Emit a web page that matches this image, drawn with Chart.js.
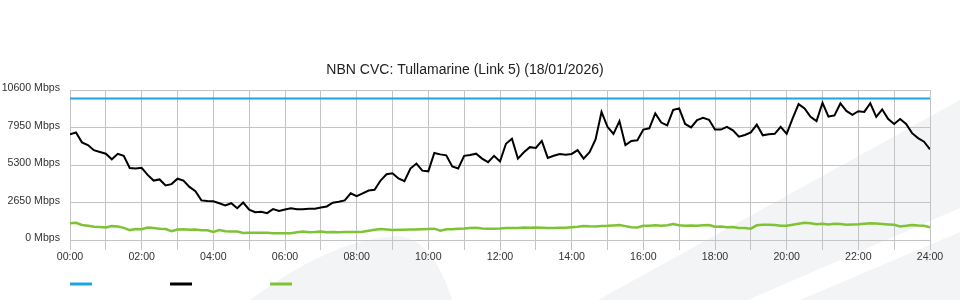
<!DOCTYPE html>
<html>
<head>
<meta charset="utf-8">
<title>NBN CVC: Tullamarine (Link 5)</title>
<script src="https://cdn.jsdelivr.net/npm/chart.js@4.4.1/dist/chart.umd.min.js"></script>
<style>
  html, body { margin: 0; padding: 0; background: #fff; }
</style>
</head>
<body>
<canvas id="cvcChart" width="960" height="300"></canvas>
<script>
// muestras cada 10 minutos, 00:00 -> 24:00
const sampleStepMinutes = 10;

const downloadMbps = [
    7470, 7600, 6900, 6710, 6350, 6220,
    6100, 5700, 6090, 5950, 5090, 5050,
    5100, 4600, 4200, 4280, 3860, 3950,
    4330, 4200, 3750, 3450, 2800, 2750,
    2740, 2600, 2450, 2600, 2250, 2650,
    2150, 1960, 2000, 1900, 2180, 2050,
    2150, 2250, 2180, 2180, 2200, 2210,
    2300, 2370, 2640, 2700, 2800, 3300,
    3100, 3300, 3500, 3550, 4200, 4650,
    4720, 4350, 4150, 5050, 5400, 4900,
    4850, 6150, 6050, 5980, 5200, 5050,
    5950, 6010, 6100, 5750, 5500, 5950,
    5550, 6800, 7150, 5750, 6200, 6560,
    6500, 7000, 5800, 5950, 6080, 6030,
    6080, 6350, 5750, 6200, 7100, 9050,
    8000, 7500, 8400, 6700, 7000, 7050,
    7800, 7890, 8950, 8300, 8100, 9190,
    9300, 8200, 7960, 8480, 8640, 8500,
    7800, 7800, 8000, 7750, 7300, 7420,
    7600, 8150, 7400, 7480, 7500, 8000,
    7500, 8600, 9600, 9300, 8700, 8400,
    9700, 8720, 8800, 9650, 9120, 8850,
    9100, 9050, 9660, 8700, 9230, 8550,
    8200, 8550, 8200, 7550, 7200, 6950,
    6410
];

const uploadMbps = [
    1180, 1220, 1060, 1000, 940, 920,
    880, 980, 950, 860, 700, 780,
    760, 880, 850, 800, 780, 620,
    740, 760, 720, 740, 690, 690,
    570, 700, 620, 600, 600, 500,
    520, 520, 520, 520, 480, 470,
    470, 470, 540, 600, 540, 560,
    600, 540, 560, 550, 560, 570,
    560, 580, 650, 720, 780, 740,
    700, 720, 720, 750, 740, 760,
    780, 800, 660, 760, 760, 800,
    810, 850, 860, 820, 800, 800,
    820, 850, 850, 850, 880, 870,
    880, 870, 850, 840, 860, 860,
    900, 940, 990, 970, 960, 990,
    1000, 1030, 1060, 980, 900, 880,
    1000, 1000, 1050, 1000, 1050, 1130,
    1050, 1000, 1020, 1000, 1050, 1060,
    940, 950, 900, 920, 850, 840,
    800, 1050, 1070, 1070, 1060, 1000,
    1000, 1080, 1150, 1220, 1180, 1120,
    1150, 1100, 1150, 1130, 1080, 1100,
    1120, 1150, 1180, 1160, 1130, 1100,
    1070, 950, 1000, 1060, 1020, 1000,
    900
];

const capacityMinutes = [0, 1440];
const capacityMbps = [10000, 10000];

const hourLabels = ['00:00', '02:00', '04:00', '06:00', '08:00', '10:00', '12:00',
                    '14:00', '16:00', '18:00', '20:00', '22:00', '24:00'];
const yTickValues = [0, 2650, 5300, 7950, 10600];

const FONT = "'Liberation Sans', Arial, sans-serif";
const GRID = '#c4c4c4';

/**
 * Fondo con las franjas grises diagonales
 */
const fondoFranjas = {
    id: 'fondoFranjas',
    beforeDraw(chart) {
        const ctx = chart.ctx;
        ctx.save();
        ctx.fillStyle = '#ffffff';
        ctx.fillRect(0, 0, chart.width, chart.height);
        ctx.fillStyle = '#f3f4f6';

        ctx.beginPath();
        ctx.moveTo(250, 300);
        ctx.quadraticCurveTo(330, 240, 395, 236);
        ctx.quadraticCurveTo(432, 236, 452, 300);
        ctx.closePath();
        ctx.fill();

        ctx.beginPath();
        ctx.moveTo(598, 300);
        ctx.lineTo(960, 100);
        ctx.lineTo(960, 208);
        ctx.lineTo(748, 300);
        ctx.closePath();
        ctx.fill();

        ctx.beginPath();
        ctx.moveTo(800, 300);
        ctx.lineTo(960, 232);
        ctx.lineTo(960, 300);
        ctx.closePath();
        ctx.fill();
        ctx.restore();
    }
};

// la leyenda arranca alineada con el eje y
const leyendaOffset = {
    id: 'leyendaOffset',
    afterLayout(chart) {
        if (chart.legend) chart.legend.left += 58;
    }
};

const toPoints = (values) => values.map((v, i) => ({ x: i * sampleStepMinutes, y: v }));

new Chart(document.getElementById('cvcChart'), {
    type: 'line',
    data: {
        datasets: [
            {
                label: 'Capacity',
                data: capacityMinutes.map((m, i) => ({ x: m, y: capacityMbps[i] })),
                borderColor: '#1ea4e2',
                backgroundColor: '#1ea4e2',
                borderWidth: 2
            },
            {
                label: 'Download',
                data: toPoints(downloadMbps),
                borderColor: '#000000',
                backgroundColor: '#000000',
                borderWidth: 2
            },
            {
                label: 'Upload',
                data: toPoints(uploadMbps),
                borderColor: '#7fc234',
                backgroundColor: '#7fc234',
                borderWidth: 2.5
            }
        ]
    },
    options: {
        responsive: false,
        animation: false,
        devicePixelRatio: 1,
        elements: { point: { radius: 0 }, line: { tension: 0 } },
        layout: { padding: { left: 0, right: 30, top: 0, bottom: 0 } },
        plugins: {
            title: {
                display: true,
                text: 'NBN CVC: Tullamarine (Link 5) (18/01/2026)',
                color: '#222',
                font: { family: FONT, size: 14, weight: 'normal' },
                padding: { top: 62, bottom: 11.2 }
            },
            legend: {
                position: 'bottom',
                align: 'start',
                labels: {
                    boxWidth: 22,
                    boxHeight: 3,
                    padding: 12,
                    font: { family: FONT, size: 12 },
                    generateLabels(chart) {
                        return chart.data.datasets.map((ds, i) => ({
                            text: '\u2003\u2003\u2003\u2003\u2003',
                            fillStyle: ds.borderColor,
                            strokeStyle: ds.borderColor,
                            lineWidth: 0,
                            hidden: false,
                            datasetIndex: i
                        }));
                    }
                }
            },
            tooltip: { enabled: false }
        },
        scales: {
            x: {
                type: 'linear',
                min: 0,
                max: 1440,
                afterFit: (s) => { s.height = 26; },
                grid: { color: GRID, lineWidth: 1, tickLength: 10, drawTicks: true },
                border: { color: GRID },
                ticks: {
                    stepSize: 60,
                    autoSkip: false,
                    maxRotation: 0,
                    padding: 0.5,
                    color: '#333',
                    font: { family: FONT, size: 10.6 },
                    callback: (v) => (v % 120 === 0 ? hourLabels[v / 120] : '')
                }
            },
            y: {
                min: 0,
                max: 10600,
                afterFit: (s) => { s.width = 70; },
                afterBuildTicks: (s) => { s.ticks = yTickValues.map((v) => ({ value: v })); },
                grid: { color: GRID, lineWidth: 1, drawTicks: false },
                border: { color: GRID },
                ticks: {
                    padding: 10,
                    labelOffset: -1.5,
                    color: '#333',
                    font: { family: FONT, size: 10.6 },
                    callback: (v) => `${v} Mbps`
                }
            }
        }
    },
    plugins: [fondoFranjas, leyendaOffset]
});
</script>
</body>
</html>
